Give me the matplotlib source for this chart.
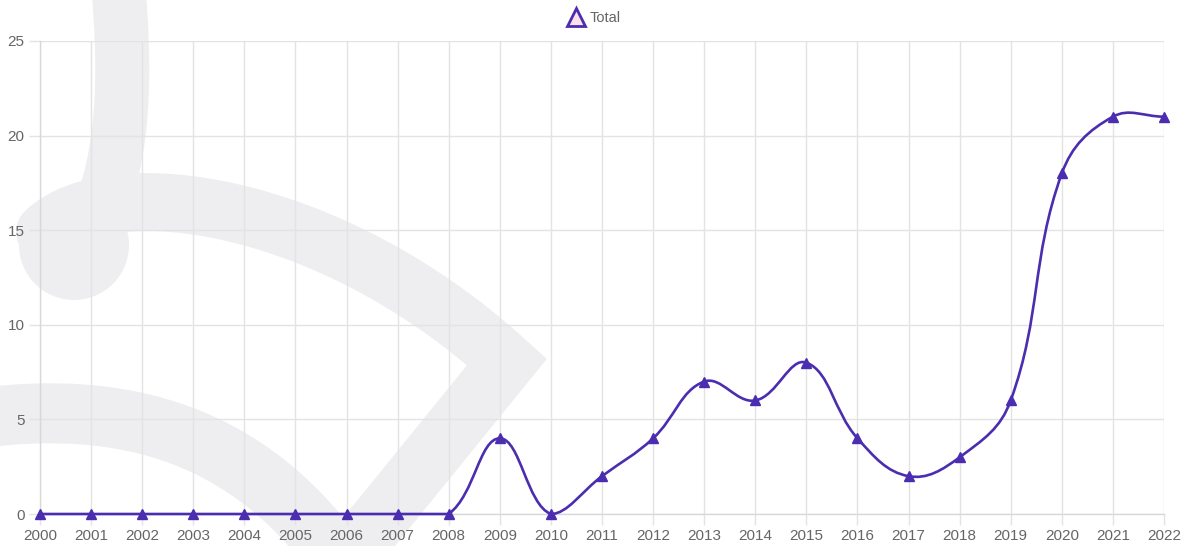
import numpy as np
import matplotlib
matplotlib.use("Agg")
import matplotlib.pyplot as plt
from matplotlib.path import Path
from matplotlib.patches import PathPatch, Circle
from matplotlib.lines import Line2D

years = list(range(2000, 2023))
totals = [0, 0, 0, 0, 0, 0, 0, 0, 0, 4, 0, 2, 4, 7, 6, 8, 4, 2, 3, 6, 18, 21, 21]
series_name = "Total"
y_ticks = [0, 5, 10, 15, 20, 25]

LINE = "#4b2daf"
GRID = "#e3e3e3"
TXT = "#666666"
WM = "#eeeef1"

W, H = 1187, 546
fig = plt.figure(figsize=(W / 100, H / 100), dpi=100)
fig.patch.set_facecolor("white")
plt.rcParams['font.family'] = ['Liberation Sans', 'DejaVu Sans']

# --- watermark (decorative background) in pixel coords (y from top) ---
def wm_path(pts, codes, width_px, cap="round"):
    pts = np.array(pts, dtype=float)
    disp = np.column_stack([pts[:, 0], H - pts[:, 1]])
    p = PathPatch(Path(disp, codes), facecolor="none", edgecolor=WM,
                  lw=width_px * 0.72, capstyle=cap, joinstyle="miter",
                  transform=None, zorder=0)
    fig.add_artist(p)

C4 = Path.CURVE4
wm_path([(118, -20), (124, 60), (132, 170), (78, 255)],
        [Path.MOVETO, C4, C4, C4], 54)
wm_path([(45, 232), (110, 170), (330, 200), (507, 362), (330, 580)],
        [Path.MOVETO, C4, C4, C4, Path.LINETO], 58)
wm_path([(-20, 418), (120, 400), (250, 430), (345, 570)],
        [Path.MOVETO, C4, C4, C4], 60)
fig.add_artist(Circle((74, H - 245), 55, transform=None, facecolor=WM,
                      edgecolor="none", zorder=0))

# --- axes ---
L, R, T, B = 40, 1164, 41, 514
ax = fig.add_axes([L / W, (H - B) / H, (R - L) / W, (B - T) / H])
ax.set_facecolor("none")
ax.set_xlim(years[0], years[-1])
ax.set_ylim(0, 25)
ax.set_xticks(years)
ax.set_xticklabels([str(y) for y in years])
ax.set_yticks(y_ticks)
ax.grid(True, color=GRID, lw=1)
ax.set_axisbelow(True)
for s in ["top", "right"]:
    ax.spines[s].set_visible(False)
for s in ["left", "bottom"]:
    ax.spines[s].set_color("#d8d8d8")
    ax.spines[s].set_linewidth(1)
ax.tick_params(axis="both", colors=GRID, length=8, width=1, labelcolor=TXT,
               labelsize=11)
ax.tick_params(axis="x", pad=3)
ax.tick_params(axis="y", pad=3)

# --- Chart.js style spline (tension 0.4, control points capped to area) ---
fig.canvas.draw()
pts = ax.transData.transform(np.column_stack([years, totals]))
tension = 0.4
n = len(pts)
prev_cp = np.zeros_like(pts)
next_cp = np.zeros_like(pts)
bb = ax.bbox
for i in range(n):
    cur = pts[i]
    pv = pts[i - 1] if i > 0 else cur
    nx = pts[i + 1] if i < n - 1 else cur
    d01 = np.hypot(*(cur - pv))
    d12 = np.hypot(*(nx - cur))
    tot = d01 + d12
    s01 = d01 / tot if tot else 0
    s12 = d12 / tot if tot else 0
    prev_cp[i] = cur - tension * s01 * (nx - pv)
    next_cp[i] = cur + tension * s12 * (nx - pv)
for arr in (prev_cp, next_cp):
    arr[:, 0] = np.clip(arr[:, 0], bb.x0, bb.x1)
    arr[:, 1] = np.clip(arr[:, 1], bb.y0, bb.y1)
verts = [pts[0]]
codes = [Path.MOVETO]
for i in range(n - 1):
    verts += [next_cp[i], prev_cp[i + 1], pts[i + 1]]
    codes += [Path.CURVE4] * 3
inv = ax.transData.inverted()
verts_d = inv.transform(np.array(verts))
ax.add_patch(PathPatch(Path(verts_d, codes), facecolor="none", edgecolor=LINE,
                       lw=1.9, zorder=3, clip_on=False))
ax.plot(years, totals, linestyle="none", marker="^", markersize=7,
        color=LINE, zorder=4, clip_on=False)

# --- legend ---
handle = Line2D([], [], linestyle="none", marker="^", markersize=13,
                markerfacecolor="#fbe1ea", markeredgecolor=LINE,
                markeredgewidth=2)
leg = fig.legend([handle], [series_name], loc="center", bbox_to_anchor=(594 / W, 1 - 18 / H),
                 frameon=False, fontsize=10.5, handlelength=1.2, handletextpad=0.4,
                 labelcolor=TXT)

fig.savefig("out.png", dpi=100)
